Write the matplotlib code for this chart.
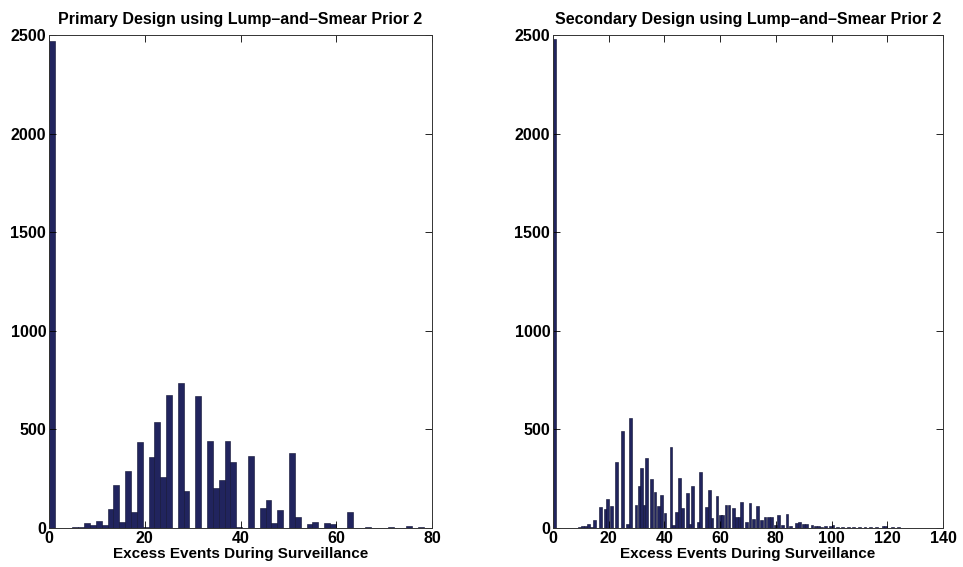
import numpy as np
import matplotlib
matplotlib.use('Agg')
import matplotlib.pyplot as plt

plt.rcParams['font.family'] = ['Liberation Sans', 'DejaVu Sans']
plt.rcParams['font.weight'] = 'bold'

# primary design: counts per bin, bins of equal width starting at 0
primary_bin_width = 1.2225
primary_counts = [2470, 0, 0, 2, 3, 5, 25, 15, 36, 15,
                  96, 218, 30, 289, 81, 437, 5, 360, 537, 260,
                  675, 0, 735, 188, 0, 670, 0, 441, 203, 243,
                  441, 335, 5, 0, 365, 0, 100, 142, 25, 91,
                  0, 382, 56, 0, 20, 31, 0, 25, 18, 0,
                  0, 83, 0, 0, 3, 0, 0, 0, 4, 0,
                  0, 8, 0, 3]

# secondary design: bin centres and counts
secondary_centers = [0.55, 8.3, 9.4, 10.5, 11.6, 12.7, 13.8, 15.0, 17.2, 18.8,
                     19.6, 21.1, 22.9, 25.0, 26.7, 27.9, 29.8, 31.0, 31.8, 32.7,
                     33.6, 35.4, 36.6, 37.8, 39.0, 40.2, 42.4, 43.3, 44.4, 45.3,
                     46.4, 48.2, 49.2, 50.1, 52.2, 53.0, 55.0, 56.1, 57.1, 58.9,
                     60.1, 61.0, 62.1, 63.2, 64.7, 65.9, 66.8, 67.7, 69.5, 70.7,
                     71.9, 73.5, 74.9, 76.1, 77.3, 78.5, 79.8, 80.9, 82.4, 84.0,
                     85.4, 87.3, 88.4, 90.0, 91.1, 93.0, 94.2, 95.4, 96.5, 97.7,
                     99.5, 100.5, 102.0, 104.0, 106.0, 108.0, 110.0, 112.0, 114.0, 116.0,
                     118.5, 119.5, 122.0, 124.0, 126.0]
secondary_counts = [2480, 2, 4, 8, 12, 18, 6, 40, 107, 95,
                    147, 112, 335, 492, 20, 557, 118, 213, 303, 118,
                    357, 250, 183, 112, 167, 76, 411, 15, 81, 253,
                    101, 177, 20, 213, 30, 284, 107, 193, 51, 162,
                    66, 64, 117, 117, 101, 56, 58, 132, 30, 125,
                    45, 112, 40, 56, 56, 56, 15, 66, 15, 71,
                    10, 25, 30, 18, 20, 15, 8, 12, 6, 12,
                    8, 15, 5, 5, 4, 4, 3, 4, 3, 4,
                    8, 10, 3, 3, 2]

bar_color = '#21245e'
xlabel = 'Excess Events During Surveillance'


def style_axes(ax, xmax, xticks, title):
    ax.set_xlim(0, xmax)
    ax.set_ylim(0, 2500)
    ax.set_xticks(xticks)
    ax.set_yticks([0, 500, 1000, 1500, 2000, 2500])
    ax.tick_params(direction='in', length=5, width=0.6, top=True, right=True,
                   labelsize=11.5, pad=2)
    for lab in ax.get_xticklabels() + ax.get_yticklabels():
        lab.set_fontweight('bold')
    for s in ax.spines.values():
        s.set_linewidth(0.7)
        s.set_color('#333333')
    ax.set_title(title, fontsize=11.5, fontweight='bold', pad=8)
    ax.set_xlabel(xlabel, fontsize=11, fontweight='bold', labelpad=1)


fig = plt.figure(figsize=(9.63, 5.67), dpi=100)

ax1 = fig.add_axes([0.0509, 0.0688, 0.3977, 0.8695])
edges = np.arange(len(primary_counts)) * primary_bin_width
ax1.bar(edges, primary_counts, width=primary_bin_width, align='edge',
        color=bar_color, edgecolor='#0d0f30', linewidth=0.4)
style_axes(ax1, 80, [0, 20, 40, 60, 80],
           'Primary Design using Lump\u2013and\u2013Smear Prior 2')

ax2 = fig.add_axes([0.5742, 0.0688, 0.405, 0.8695])
ax2.bar(secondary_centers, secondary_counts, width=1.0,
        color=bar_color, edgecolor='#0d0f30', linewidth=0.4)
style_axes(ax2, 140, [0, 20, 40, 60, 80, 100, 120, 140],
           'Secondary Design using Lump\u2013and\u2013Smear Prior 2')

fig.savefig('out.png', dpi=100)
